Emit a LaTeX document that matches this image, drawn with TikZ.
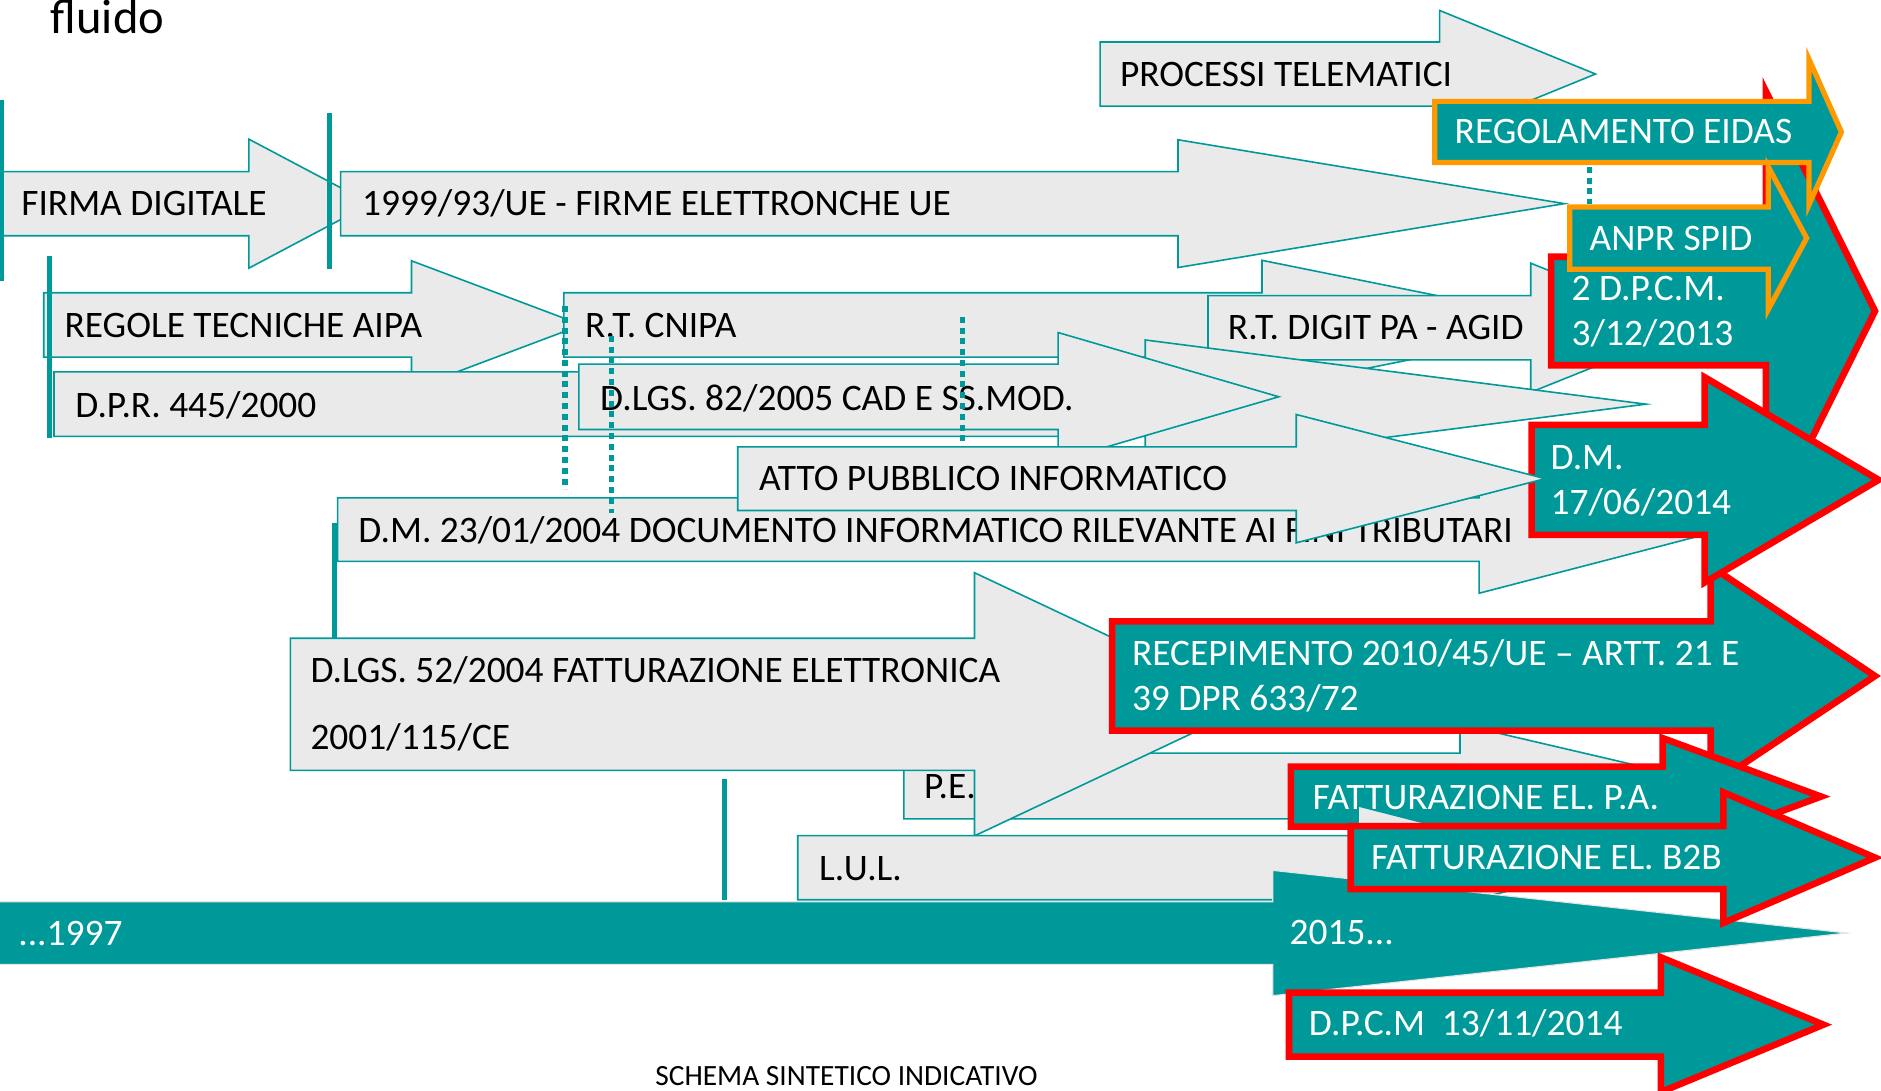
\documentclass[tikz,border=0pt]{standalone}
\usepackage{fontspec}
\setmainfont{Carlito}
\definecolor{tealc}{RGB}{0,153,153}
\definecolor{grayc}{RGB}{234,234,234}
\definecolor{redc}{RGB}{255,0,0}
\definecolor{orangec}{RGB}{255,153,0}
\newcommand{\mainsz}{\fontsize{18.7pt}{21pt}\selectfont}
% style, x0, top, bottom, head x, head top, tip x
\newcommand{\myarrow}[7]{%
  \draw[#1] (#2,#3) -- (#5,#3) -- (#5,#6) -- (#7,{(#3+#4)/2}) -- (#5,{#3+#4-#6}) -- (#5,#4) -- (#2,#4) -- cycle;}
\begin{document}
\begin{tikzpicture}[x=0.6pt,y=-0.6pt,
  garrow/.style={fill=grayc,draw=tealc,line width=0.8pt},
  rarrow/.style={fill=tealc,draw=redc,line width=3.3pt},
  oarrow/.style={fill=tealc,draw=orangec,line width=2.6pt},
  tarrow/.style={fill=tealc,draw=black!10,line width=0.6pt},
  btxt/.style={anchor=base west,inner sep=0pt,font=\mainsz,text=black},
  wtxt/.style={btxt,text=white},
  marker/.style={draw=tealc,line width=2.4pt},
  dotline/.style={draw=tealc,line width=2.6pt,dash pattern=on 3pt off 2.4pt}]
\useasboundingbox (0,0) rectangle (1568,909);

% ---- grey arrows ----
\myarrow{garrow}{2}{143}{196.5}{207.5}{116}{309}
\node[btxt] (tfirma) at (17.5,180) {FIRMA DIGITALE};
\myarrow{garrow}{284}{143}{196.5}{982}{116.5}{1304}
\node[btxt] (t1999) at (301.5,180) {1999/93/UE - FIRME ELETTRONCHE UE};
\myarrow{garrow}{917}{35}{88.4}{1200}{8.7}{1330}
\node[btxt] (tproc) at (933.3,72) {PROCESSI TELEMATICI};
\myarrow{garrow}{36.5}{244}{297.7}{343}{217.4}{485}
\node[btxt] (taipa) at (53.5,281) {REGOLE TECNICHE AIPA};
\myarrow{garrow}{470}{244}{297.7}{1052}{217}{1319}
\node[btxt] (tcnipa) at (487.5,281) {R.T. CNIPA};
\myarrow{garrow}{1007}{246.4}{300}{1276}{219.4}{1410}
\node[btxt] (tdigit) at (1023.3,283) {R.T. DIGIT PA - AGID};
\myarrow{garrow}{45}{310}{363.8}{954.7}{283.4}{1372}
\node[btxt] (tdpr) at (62.5,348) {D.P.R. 445/2000};
\myarrow{garrow}{482.5}{303.5}{358}{882}{277.2}{1066}
\node[btxt] (tcad) at (500,342) {D.LGS. 82/2005 CAD E SS.MOD.};
\myarrow{garrow}{281.5}{415}{468}{1233}{388.5}{1437}
\node[btxt] (tdm23) at (298.5,452) {D.M. 23/01/2004 DOCUMENTO INFORMATICO RILEVANTE AI FINI TRIBUTARI};
\myarrow{garrow}{753.5}{627.8}{682.6}{1217}{603.7}{1438}
\node[btxt] (tpe) at (770,666) {P.E.};
\myarrow{garrow}{242}{532}{642.2}{812.3}{477.4}{1045}
\node[btxt] (tdlgsa) at (258.5,569) {D.LGS. 52/2004 FATTURAZIONE ELETTRONICA};
\node[btxt] (tdlgsb) at (258.5,625) {2001/115/CE};

% ---- markers ----
\coordinate (m1a) at (1.5,83);   \coordinate (m1b) at (1.5,234);
\coordinate (m2a) at (274.5,94); \coordinate (m2b) at (274.5,224);
\coordinate (m3a) at (41,213);   \coordinate (m3b) at (41,365);
\coordinate (m4a) at (279,436);  \coordinate (m4b) at (279,532);
\coordinate (m5a) at (604,649);  \coordinate (m5b) at (604,750);
\draw[marker] (m1a) -- (m1b);
\draw[marker] (m2a) -- (m2b);
\draw[marker] (m3a) -- (m3b);
\draw[marker] (m4a) -- (m4b);
\draw[marker] (m5a) -- (m5b);
\coordinate (d1a) at (471,255);  \coordinate (d1b) at (471,408);
\coordinate (d2a) at (510,280);  \coordinate (d2b) at (510,428);
\coordinate (d3a) at (802,264);  \coordinate (d3b) at (802,371);
\coordinate (d4a) at (1325,139); \coordinate (d4b) at (1325,170);
\draw[dotline] (d1a) -- (d1b);
\draw[dotline] (d2a) -- (d2b);
\draw[dotline] (d3a) -- (d3b);
\draw[dotline] (d4a) -- (d4b);

% ---- coloured arrows ----
\myarrow{rarrow}{1293}{214}{304.5}{1472}{76}{1563}
\node[wtxt] (tdpcma) at (1309.8,250.5) {2 D.P.C.M.};
\node[wtxt] (tdpcmb) at (1309.8,288) {3/12/2013};
\myarrow{oarrow}{1196}{84.5}{135.5}{1508}{49.5}{1535}
\node[wtxt] (teidas) at (1212.3,120) {REGOLAMENTO EIDAS};
\myarrow{oarrow}{1308.5}{172.5}{224.5}{1474}{139}{1506}
\node[wtxt] (tanpr) at (1324.8,208.5) {ANPR SPID};
\myarrow{rarrow}{927}{518}{609}{1426}{472}{1563}
\node[wtxt] (treca) at (943.3,554.5) {RECEPIMENTO 2010/45/UE – ARTT. 21 E};
\node[wtxt] (trecb) at (943.3,592) {39 DPR 633/72};
\myarrow{rarrow}{1276.7}{354.2}{445.8}{1421}{314.5}{1566}
\node[wtxt] (tdma) at (1292.3,391) {D.M.};
\node[wtxt] (tdmb) at (1292.3,428.6) {17/06/2014};
\myarrow{garrow}{615}{372.5}{425.5}{1080.5}{345.5}{1288}
\node[btxt] (tatto) at (632.5,409) {ATTO PUBBLICO INFORMATICO};
\myarrow{rarrow}{1076}{639}{689}{1386}{615.3}{1518}
\node[wtxt] (tpa) at (1093.8,675) {FATTURAZIONE EL. P.A.};
\myarrow{garrow}{665}{696.5}{750}{1132}{671.7}{1333}
\node[btxt] (tlul) at (682.5,734) {L.U.L.};
\myarrow{tarrow}{-5}{751.6}{803.9}{1061}{725.5}{1540}
\node[wtxt] (t1997) at (15,788) {...1997};
\node[wtxt] (t2015) at (1074.7,787.5) {2015...};
\myarrow{rarrow}{1126}{688.6}{741.2}{1436.6}{660.5}{1563}
\node[wtxt] (tb2b) at (1142.6,725) {FATTURAZIONE EL. B2B};
\myarrow{rarrow}{1074.5}{827.5}{880.8}{1384.5}{798}{1520}
\node[wtxt] (tdpcmc) at (1090.8,863.5) {D.P.C.M\ \ 13/11/2014};

% ---- free texts ----
\node[anchor=base west,inner sep=0pt,font=\fontsize{24.3pt}{28pt}\selectfont] (tfluido) at (42,28) {fluido};
\node[anchor=base west,inner sep=0pt,font=\fontsize{14.7pt}{17pt}\selectfont] (tschema) at (546,905) {SCHEMA SINTETICO INDICATIVO};
\end{tikzpicture}
\end{document}
